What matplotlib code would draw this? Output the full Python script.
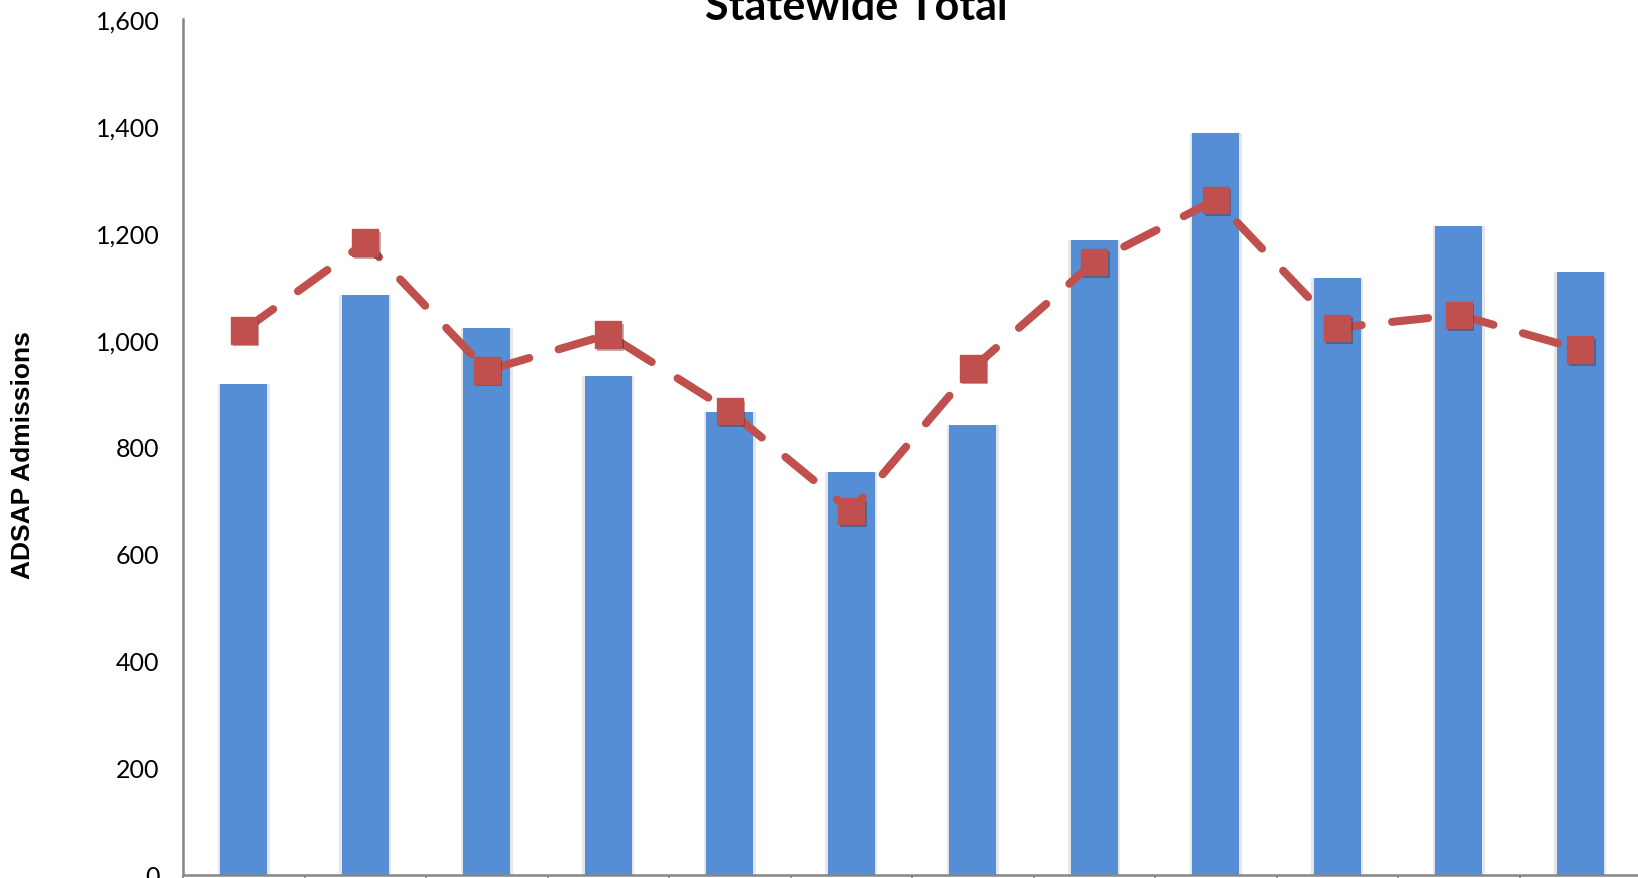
import numpy as np
import matplotlib
matplotlib.use("Agg")
import matplotlib.pyplot as plt
import matplotlib.patheffects as pe

# values
categories = ["1", "2", "3", "4", "5", "6", "7", "8", "9", "10", "11", "12"]
admissions = [918, 1084, 1023, 932, 865, 754, 842, 1187, 1387, 1115, 1213, 1127]
trend = [1018, 1182, 943, 1010, 867, 680, 947, 1146, 1262, 1023, 1047, 982]
y_ticks = [0, 200, 400, 600, 800, 1000, 1200, 1400, 1600]

bar_color = "#558ED5"
line_color = "#C0504D"

fig = plt.figure(figsize=(16.38, 8.79), dpi=100)
ax = fig.add_axes([183 / 1638, 3 / 879, 1458 / 1638, (876 - 20) / 879])

x = np.arange(len(categories))

# soft shadow behind each bar
ax.bar(x, admissions, width=0.43, color="#e6e6e6", zorder=1)
ax.bar(x, admissions, width=0.39, color=bar_color, zorder=2)

ax.plot(x, trend, color=line_color, lw=5.8, dashes=(4.5, 3.8),
        dash_capstyle="round", zorder=3)
ax.plot(x, trend, linestyle="none", marker="s", markersize=19,
        color=line_color, zorder=4,
        path_effects=[pe.SimplePatchShadow(offset=(1.5, -2), alpha=0.35), pe.Normal()])

ax.set_xlim(-0.5, len(categories) - 0.5)
ax.set_ylim(0, 1600)
ax.set_yticks(y_ticks)
ax.set_yticklabels([f"{v:,}" for v in y_ticks], fontsize=18, family="Lato")
ax.set_xticks(np.arange(len(categories) + 1) - 0.5)
ax.set_xticklabels([])
ax.tick_params(axis="y", length=0, pad=17)
ax.tick_params(axis="x", length=5, color="#868686", width=1.2)

for side in ["top", "right"]:
    ax.spines[side].set_visible(False)
for side in ["left", "bottom"]:
    ax.spines[side].set_color("#868686")
    ax.spines[side].set_linewidth(1.8)

fig.text(856 / 1638, 1 - 20 / 879, "Statewide Total", ha="center", va="baseline",
         fontsize=31, fontweight="bold", family="Lato")
fig.text(23 / 1638, 1 - 455 / 879, "ADSAP Admissions", rotation=90, ha="center",
         va="center", fontsize=19, fontweight="bold", family="Liberation Sans")

fig.savefig("out.png", dpi=100)
